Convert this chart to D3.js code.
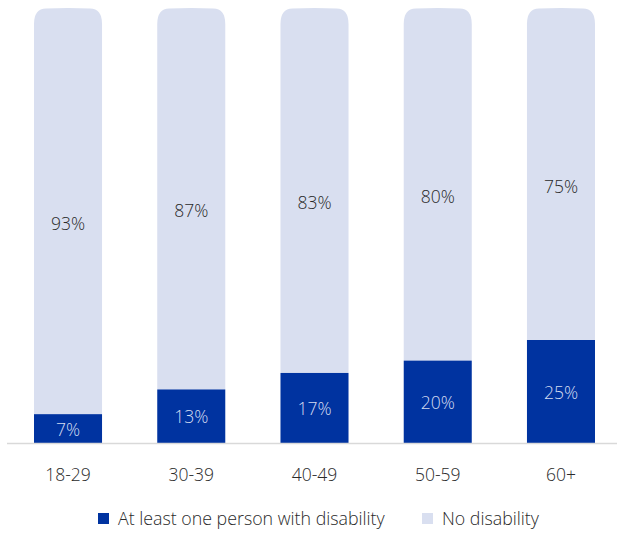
<!DOCTYPE html>
<html><head><meta charset="utf-8">
<script src="https://cdn.jsdelivr.net/npm/d3@7"></script>
<style>body{margin:0;background:#fff}svg{display:block}text{font-family:"Open Sans",Lato,sans-serif;font-weight:300}</style>
</head><body><svg id="c" width="617" height="533"></svg>
<script>
const categories = ["18-29","30-39","40-49","50-59","60+"];
const disability = [7,13,17,20,25];
const noDisability = [93,87,83,80,75];
const seriesNames = ["At least one person with disability","No disability"];
const colors = ["#0033a0","#d9dff0"];

const svg = d3.select("#c");
const x = d3.scaleBand().domain(categories).range([6.4,622.6]).paddingInner(0.448).paddingOuter(0.224);
const y = d3.scaleLinear().domain([0,100]).range([443,31]);
const capTop = 8;
const bw = x.bandwidth();

const data = categories.map((c,i)=>({c, d:disability[i], n:noDisability[i]}));

svg.selectAll("path.light").data(data).join("path").attr("class","light")
  .attr("fill",colors[1])
  .attr("d",d=>{
    const x0=x(d.c), x1=x0+bw, yb=y(d.d), yt=y(d.d+d.n);
    const cs=yt-15;
    return `M${x0},${yb} L${x0},${cs+8} Q${x0},${capTop+1} ${x0+12},${capTop+0.6} Q${x0+bw/2},${capTop-0.6} ${x1-12},${capTop+0.6} Q${x1},${capTop+1} ${x1},${cs+8} L${x1},${yb} Z`;
  });

svg.selectAll("rect.dark").data(data).join("rect").attr("class","dark")
  .attr("x",d=>x(d.c)).attr("width",bw)
  .attr("y",d=>y(d.d)).attr("height",d=>y(0)-y(d.d))
  .attr("fill",colors[0]);

svg.append("line").attr("x1",7).attr("x2",617).attr("y1",443.5).attr("y2",443.5)
  .attr("stroke","#d9d9d9").attr("stroke-width",1.5);

svg.selectAll("text.ln").data(data).join("text").attr("class","ln")
  .attr("x",d=>x(d.c)+bw/2).attr("y",d=>(y(d.d)+y(d.d+d.n))/2+1)
  .attr("text-anchor","middle").attr("dy","0.35em").attr("font-size",17.5).attr("fill","#2a2a2a")
  .text(d=>d.n+"%");
svg.selectAll("text.ld").data(data).join("text").attr("class","ld")
  .attr("x",d=>x(d.c)+bw/2).attr("y",d=>(y(d.d)+y(0))/2+1)
  .attr("text-anchor","middle").attr("dy","0.35em").attr("font-size",17.5).attr("fill","#d4dcf0")
  .text(d=>d.d+"%");

const xa = svg.append("g").attr("transform","translate(0,443)")
  .call(d3.axisBottom(x).tickSize(0).tickPadding(26));
xa.select(".domain").remove();
xa.selectAll("text").attr("font-size",17.5).attr("fill","#2a2a2a").attr("font-family","'Open Sans',sans-serif").attr("font-weight",300);

const leg = [{n:seriesNames[0],c:colors[0],x:98},{n:seriesNames[1],c:colors[1],x:422}];
const lg = svg.selectAll("g.leg").data(leg).join("g").attr("class","leg")
  .attr("transform",d=>`translate(${d.x},513)`);
lg.append("rect").attr("width",11).attr("height",11).attr("fill",d=>d.c);
lg.append("text").attr("x",20).attr("y",5.5).attr("dy","0.35em").attr("font-size",17.8).attr("fill","#2a2a2a").text(d=>d.n);
</script></body></html>
